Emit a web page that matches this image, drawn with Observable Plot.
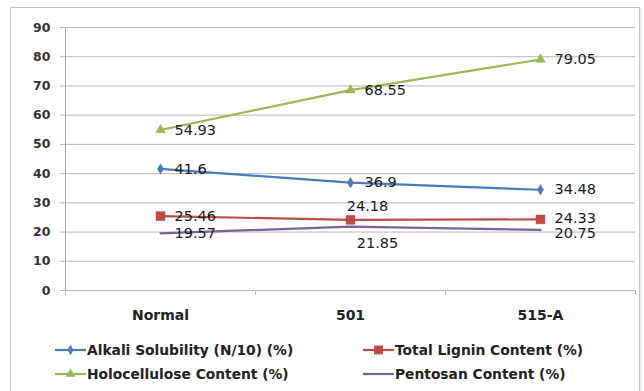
<!DOCTYPE html>
<html>
<head>
<meta charset="utf-8">
<script src="https://cdn.jsdelivr.net/npm/d3@7"></script>
<script src="https://cdn.jsdelivr.net/npm/@observablehq/plot@0.6"></script>
<style>
  html, body { margin: 0; padding: 0; background: #fff; }
  #wrap { position: relative; width: 644px; height: 391px; overflow: hidden; font-family: "DejaVu Sans", sans-serif; }
  #frame { position: absolute; left: 10px; top: 7px; width: 628px; height: 420px; border: 1.5px solid #c4c4c4; box-shadow: 1px 1px 2px #ddd; }
  #chart { position: absolute; left: 0; top: 0; }
  .leg { position: absolute; display: flex; align-items: center; font-weight: bold; font-size: 13.8px; color: #222; white-space: nowrap; }
  .leg svg { margin-right: 1px; }
</style>
</head>
<body>
<div id="wrap">
  <div id="frame"></div>
  <div id="chart"></div>
</div>
<script>
const categories = ["Normal", "501", "515-A"];
const seriesNames = ["Alkali Solubility (N/10) (%)", "Total Lignin Content (%)", "Holocellulose Content (%)", "Pentosan Content (%)"];
const alkali = [41.6, 36.9, 34.48];
const lignin = [25.46, 24.18, 24.33];
const holo = [54.93, 68.55, 79.05];
const pentosan = [19.57, 21.85, 20.75];
const yTicks = [0, 10, 20, 30, 40, 50, 60, 70, 80, 90];

const colors = ["#4a7ebb", "#be4b48", "#98b954", "#7d60a0"];
const symbols = ["diamond", "square", "triangle", null];
const rs = [3.2, 5, 3.6, 0];
const allValues = [alkali, lignin, holo, pentosan];

const rows = [];
allValues.forEach((vals, s) => vals.forEach((v, i) => rows.push({series: s, name: seriesNames[s], cat: categories[i], xi: i + 0.5, v})));

// label placement (style): special offsets for crowded labels
const isAbove = d => d.series === 1 && d.cat === "501";
const isBelow = d => d.series === 3 && d.cat === "501";
const nudgeDy = d => (d.cat === "515-A" && d.series === 1) ? -1 : (d.cat === "515-A" && d.series === 3) ? 3 : 0;
const normal = rows.filter(d => !isAbove(d) && !isBelow(d));

const marks = [
  Plot.gridY(yTicks, {stroke: "#b8b8b8", strokeOpacity: 1, strokeWidth: 1}),
  Plot.ruleX([0], {y1: 0, y2: 90, stroke: "#a8a8a8"}),
  Plot.axisY({ticks: yTicks, tickSize: 5, tickPadding: 10, stroke: "#b8b8b8", fontSize: 12.5, fontWeight: "bold", fill: "#333", label: null}),
  Plot.axisX({ticks: [0, 1, 2, 3], tickSize: 5, tickFormat: () => "", stroke: "#b8b8b8", label: null}),
  Plot.axisX({ticks: [0.5, 1.5, 2.5], tickSize: 0, tickPadding: 20, tickFormat: d => categories[Math.floor(d)], fontSize: 14, fontWeight: "bold", fill: "#222", label: null}),
];
allValues.forEach((vals, s) => {
  const data = rows.filter(d => d.series === s);
  marks.push(Plot.line(data, {x: "xi", y: "v", stroke: colors[s], strokeWidth: 2.2}));
  if (symbols[s]) marks.push(Plot.dot(data, {x: "xi", y: "v", symbol: symbols[s], r: rs[s], fill: colors[s], stroke: colors[s], strokeWidth: 0.5}));
});
const txt = {fontSize: 14.5, fill: "#1a1a1a", text: d => String(d.v)};
[-1, 0, 3].forEach(off => {
  marks.push(Plot.text(normal.filter(d => nudgeDy(d) === off), {x: "xi", y: "v", ...txt, textAnchor: "start", dx: 14, dy: off}));
});
marks.push(Plot.text(rows.filter(isAbove), {x: "xi", y: "v", ...txt, textAnchor: "middle", dx: 17, dy: -13}));
marks.push(Plot.text(rows.filter(isBelow), {x: "xi", y: "v", ...txt, textAnchor: "middle", dx: 27, dy: 17}));

const chart = Plot.plot({
  width: 644,
  height: 391,
  marginLeft: 65,
  marginRight: 9,
  marginTop: 27,
  marginBottom: 101,
  x: {type: "linear", domain: [0, 3]},
  y: {domain: [0, 90]},
  style: {background: "transparent", fontFamily: "DejaVu Sans, sans-serif", overflow: "visible"},
  marks
});
document.getElementById("chart").appendChild(chart);

// legend
const legPos = [[55, 350], [363, 350], [55, 374], [363, 374]];
const wrap = document.getElementById("wrap");
const symMap = {diamond: d3.symbolDiamond, square: d3.symbolSquare, triangle: d3.symbolTriangle};
seriesNames.forEach((name, s) => {
  const div = document.createElement("div");
  div.className = "leg";
  div.style.left = legPos[s][0] + "px";
  div.style.top = (legPos[s][1] - 9) + "px";
  const sw = d3.create("svg").attr("width", 31).attr("height", 18);
  sw.append("line").attr("x1", 0).attr("x2", 31).attr("y1", 9).attr("y2", 9).attr("stroke", colors[s]).attr("stroke-width", 2.2);
  if (symbols[s]) {
    const area = Math.PI * rs[s] * rs[s];
    sw.append("path").attr("d", d3.symbol(symMap[symbols[s]], area)()).attr("transform", "translate(15.5,9)").attr("fill", colors[s]);
  }
  div.appendChild(sw.node());
  const span = document.createElement("span");
  span.textContent = name;
  div.appendChild(span);
  wrap.appendChild(div);
});
</script>
</body>
</html>
